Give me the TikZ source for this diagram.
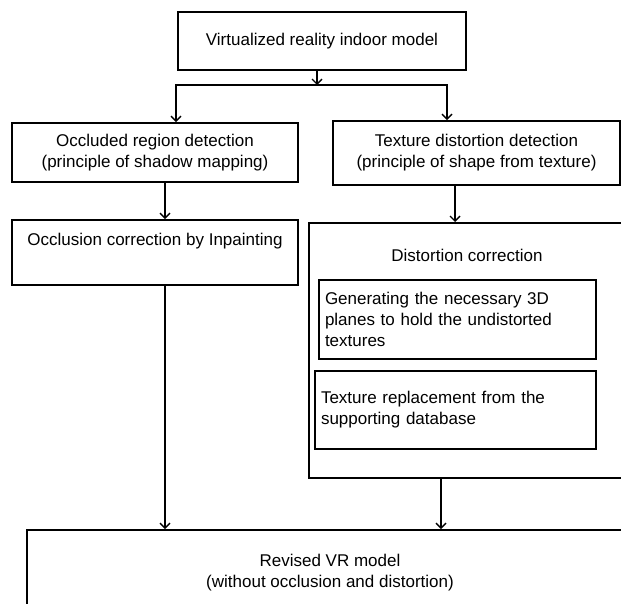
\documentclass[tikz,border=0pt]{standalone}
\usepackage{fontspec}
\setmainfont{Liberation Sans}
\usetikzlibrary{arrows.meta}

\tikzset{
  box/.style={draw,line width=1.6pt,inner sep=6pt,font=\fontsize{17}{21}\selectfont,align=center},
  flow/.style={line width=1.4pt,-{Straight Barb[length=5pt,width=10pt]}}
}

\begin{document}
\begin{tikzpicture}[x=1pt,y=-1pt]
\clip (0,0) rectangle (621,604);

\node [box,minimum width=288pt,minimum height=58pt] (model) at (322,41) {Virtualized reality indoor model};
\node [box,minimum width=286pt,minimum height=59pt] (occl) at (155,152.5) {Occluded region detection\\(principle of shadow mapping)};
\node [box,minimum width=287pt,minimum height=64pt] (tdet) at (476.5,153) {Texture distortion detection\\(principle of shape from texture)};
\node [box,minimum width=286pt,minimum height=65pt] (inpaint) at (155,252.5) {Occlusion correction by Inpainting\\ \strut};
\node [box,minimum width=322pt,minimum height=255pt,anchor=north west] (dcorr) at (308,222) {};
\node [font=\fontsize{17}{21}\selectfont] (dtitle) at (467,255) {Distortion correction};
\node [box,text width=265pt,align=left,minimum height=79pt] (gen) at (457.5,319.5) {Generating the necessary 3D\\planes to hold the undistorted\\textures};
\node [box,text width=269pt,align=left,minimum height=78pt] (repl) at (455.5,410) {Texture replacement from the\\supporting database};
\node [box,minimum width=606pt,minimum height=85pt] (result) at (330,572.5) {Revised VR model\\(without occlusion and distortion)};

% arrow columns
\coordinate (split) at (317,85);
\coordinate (colA) at (165,0);
\coordinate (colB) at (455,0);
\coordinate (colC) at (441,0);

\draw [flow] (model.south -| split) -- (split);
\draw [flow] (split) -| ([xshift=21pt]occl.north);
\draw [flow] (split) -| ([xshift=-29.5pt]tdet.north);
\draw [flow] (occl.south -| colA) -- (inpaint.north -| colA);
\draw [flow] (tdet.south -| colB) -- (dcorr.north -| colB);
\draw [flow] (inpaint.south -| colA) -- (result.north -| colA);
\draw [flow] (dcorr.south -| colC) -- (result.north -| colC);
\end{tikzpicture}
\end{document}
